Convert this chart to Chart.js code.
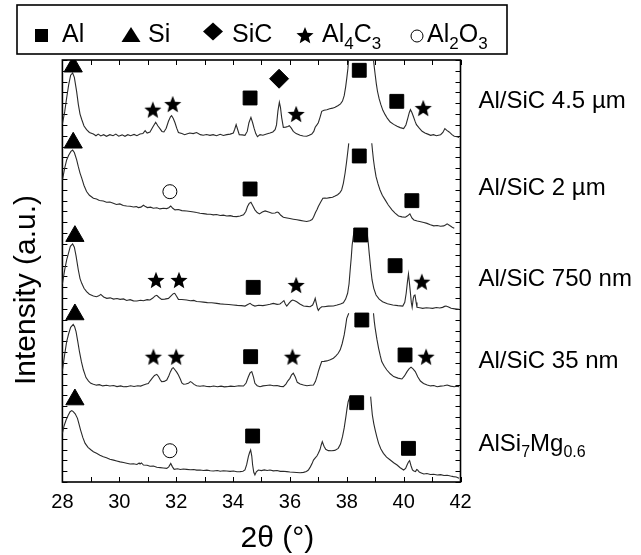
<!DOCTYPE html>
<html>
<head>
<meta charset="utf-8">
<script src="https://cdn.jsdelivr.net/npm/chart.js@4.4.1/dist/chart.umd.min.js"></script>
<style>
  html, body { margin: 0; padding: 0; background: #fff; }
  canvas { display: block; }
</style>
</head>
<body>
<canvas id="c" width="641" height="555"></canvas>
<script>
// ---------------- DATA ----------------
const sampleNames = ['Al/SiC 4.5 µm', 'Al/SiC 2 µm', 'Al/SiC 750 nm', 'Al/SiC 35 nm', 'AlSi7Mg0.6'];
const xTickLabels = [28, 30, 32, 34, 36, 38, 40, 42];
const xTitle = '2θ (°)';
const yTitle = 'Intensity (a.u.)';

// [2θ (°), stacked intensity (a.u.)]; null marks the truncated Al(111) peak top
const trace45um = [[28.0,331],[28.08,342],[28.15,355],[28.22,367],[28.29,376],[28.36,378],[28.42,374],[28.5,361],[28.56,349],[28.62,340],[28.68,335],[28.76,329],[28.85,325.6],[28.95,323],[29.09,321.6],[29.18,320],[29.26,321.5],[29.35,319.8],[29.45,321],[29.55,319.5],[29.67,321],[29.78,320],[29.88,321.5],[29.98,319.6],[30.1,320.8],[30.2,319.5],[30.3,321],[30.4,320],[30.52,321.2],[30.62,320],[30.73,321.6],[30.83,322],[30.91,324.7],[30.98,322.5],[31.08,323.5],[31.18,328],[31.28,332.4],[31.36,329],[31.43,326.6],[31.5,324],[31.57,323.5],[31.65,327],[31.73,333.4],[31.8,337.5],[31.84,338.5],[31.9,336],[31.96,332],[32.02,327],[32.08,323],[32.2,322],[32.3,321],[32.37,321.6],[32.48,322.5],[32.6,322],[32.72,323],[32.85,321],[32.95,320.5],[33.07,321.2],[33.19,320.4],[33.3,321],[33.42,320],[33.55,321.4],[33.66,320.3],[33.78,321],[33.9,321.5],[34.01,322.5],[34.06,326],[34.11,330.2],[34.16,326],[34.22,321],[34.32,320.8],[34.42,320.4],[34.5,324],[34.56,332],[34.63,337],[34.69,332],[34.74,327],[34.8,322],[34.86,319.1],[34.95,321],[35.05,320.5],[35.18,321.6],[35.3,322.5],[35.4,323.5],[35.48,325.6],[35.53,330],[35.58,343],[35.63,350.9],[35.67,346],[35.71,337],[35.77,327.8],[35.85,328],[35.93,328.5],[35.98,329.3],[36.05,327],[36.12,324.1],[36.22,322],[36.36,320.4],[36.47,319.8],[36.59,319.5],[36.68,320.5],[36.77,321.6],[36.84,324],[36.89,327.8],[36.95,330],[37.0,332],[37.06,337],[37.12,342.6],[37.2,343.5],[37.3,344.1],[37.4,345],[37.5,345.5],[37.59,346.3],[37.7,348],[37.78,349.5],[37.85,352],[37.91,357],[37.96,365],[38.0,373],[38.04,382],[38.07,392],[38.1,402],[38.45,null],[38.9,402],[38.94,390],[38.97,383],[39.0,376.4],[39.04,368],[39.08,361.1],[39.14,354],[39.2,348.7],[39.27,343.5],[39.35,339.5],[39.43,336],[39.53,332.7],[39.65,330.5],[39.77,328.7],[39.88,327.5],[40.0,326.6],[40.08,330],[40.15,336.5],[40.2,341.5],[40.24,344.1],[40.29,341.5],[40.34,338],[40.4,333.5],[40.45,330.2],[40.55,327],[40.65,324.1],[40.75,322.5],[40.85,321.5],[40.95,320.4],[41.05,321],[41.15,320],[41.3,321],[41.38,323],[41.45,326.6],[41.52,325],[41.6,323.5],[41.7,321],[41.78,319.5],[41.88,319],[41.95,318.5]];

const trace2um = [[28.0,279],[28.08,290],[28.15,297.6],[28.22,302],[28.3,305.5],[28.36,306.7],[28.42,304.5],[28.5,298],[28.56,291.4],[28.62,285.5],[28.68,280.8],[28.76,274],[28.85,268.5],[28.95,265],[29.09,262.2],[29.2,261.5],[29.3,260.2],[29.44,259.7],[29.55,258.5],[29.67,258.8],[29.79,257.6],[29.9,256.5],[30.02,257],[30.14,255.5],[30.26,255.1],[30.38,254.8],[30.5,254.2],[30.6,254.5],[30.67,253.6],[30.76,254],[30.85,255.8],[30.92,254.5],[30.99,253.6],[31.1,254],[31.2,253],[31.32,253.5],[31.43,252.4],[31.55,253],[31.67,252.7],[31.74,253.5],[31.81,255.1],[31.88,253],[31.96,251.5],[32.08,251.8],[32.2,250.8],[32.37,250.5],[32.5,250],[32.62,249.6],[32.72,249],[32.84,248.4],[32.96,248],[33.08,247.6],[33.2,247.4],[33.31,246.9],[33.42,247.2],[33.55,246.3],[33.66,246.6],[33.78,245.9],[33.9,246.2],[34.0,245.5],[34.13,245.3],[34.25,245.8],[34.37,246.9],[34.45,250],[34.51,254.6],[34.57,257.5],[34.63,258.5],[34.7,255],[34.77,251.5],[34.85,249],[34.93,247.8],[35.03,249.5],[35.13,250.5],[35.25,249.5],[35.37,248.4],[35.48,248.6],[35.55,249.5],[35.6,249],[35.68,246.5],[35.77,244.7],[35.9,244],[36.0,243.5],[36.12,242.9],[36.25,242.3],[36.36,241.8],[36.48,241.2],[36.59,240.7],[36.7,241.5],[36.78,242.5],[36.83,244.7],[36.9,249],[36.96,252],[37.0,254.6],[37.08,258.5],[37.16,262.2],[37.23,262.5],[37.3,262.2],[37.4,262.8],[37.5,263.2],[37.59,264.3],[37.68,265.5],[37.76,267.5],[37.82,269.9],[37.88,276],[37.94,285.3],[37.99,295],[38.03,303.8],[38.07,313],[38.45,null],[38.88,313],[38.91,305],[38.94,297.6],[38.98,290],[39.03,282.2],[39.1,275.5],[39.17,269.9],[39.25,265],[39.35,260.7],[39.46,256],[39.59,251.5],[39.7,248.5],[39.82,245.9],[39.94,245],[40.06,244.7],[40.14,246],[40.22,247.8],[40.29,244],[40.36,242.2],[40.48,241.2],[40.6,240.5],[40.71,239.8],[40.82,239],[40.94,237.8],[41.06,236.7],[41.18,237],[41.3,236.4],[41.41,236.7],[41.47,237.5],[41.53,238.6],[41.62,237],[41.71,235.5],[41.78,234.6]];

const trace750nm = [[28.0,183],[28.08,196],[28.15,205.2],[28.22,212],[28.28,217.8],[28.36,220],[28.42,217],[28.48,209],[28.56,195.9],[28.62,188],[28.68,183.6],[28.76,179],[28.85,175.9],[28.95,173.5],[29.09,171.9],[29.2,171.2],[29.28,172],[29.35,173.4],[29.45,171],[29.56,169.7],[29.68,170.2],[29.8,169],[29.92,169.6],[30.03,168.8],[30.15,169.2],[30.26,167.8],[30.38,168.5],[30.5,167.4],[30.62,167.3],[30.75,168],[30.85,167.5],[30.98,168.5],[31.08,168.2],[31.18,170],[31.26,172],[31.32,172.5],[31.4,170.5],[31.49,168.8],[31.6,169],[31.73,169.7],[31.82,172],[31.9,174],[31.95,174.4],[32.02,171.5],[32.08,168.8],[32.2,168.6],[32.37,168.2],[32.5,167.5],[32.62,167.8],[32.72,166.8],[32.84,166.6],[32.96,166.2],[33.1,165.8],[33.25,165.6],[33.43,165.1],[33.55,164.6],[33.7,164.3],[33.85,164],[34.01,163.6],[34.15,163.2],[34.3,163],[34.42,162.6],[34.52,164],[34.6,165.1],[34.68,163.5],[34.77,162.6],[34.9,163.4],[35.05,163],[35.18,163.6],[35.3,164.2],[35.42,165.1],[35.55,164.2],[35.65,164.5],[35.72,166],[35.79,167.6],[35.84,164.5],[35.89,162.6],[35.98,165.5],[36.05,167.5],[36.1,168.2],[36.17,167.5],[36.24,166.6],[36.35,164.5],[36.48,162.6],[36.6,162.3],[36.71,162],[36.8,163.5],[36.85,166.5],[36.89,169.7],[36.93,165],[36.97,160.5],[37.0,158.6],[37.05,160.5],[37.12,162],[37.2,162],[37.35,162.5],[37.53,162.6],[37.66,163.5],[37.78,164.5],[37.88,165.7],[37.96,169],[38.03,174.4],[38.08,183],[38.12,195.9],[38.16,208],[38.19,219],[38.23,227],[38.26,231.3],[38.45,234],[38.69,231.3],[38.73,227],[38.76,220],[38.79,211.3],[38.84,198],[38.89,186.7],[38.95,179],[39.03,172.8],[39.14,169],[39.26,166.6],[39.43,164.8],[39.62,163.6],[39.8,163],[39.97,162.6],[40.04,166],[40.09,174.4],[40.13,184],[40.17,192.2],[40.2,185],[40.24,174.4],[40.27,166],[40.3,161.4],[40.34,169.7],[40.37,172.5],[40.4,172.8],[40.44,166],[40.47,161.4],[40.57,161],[40.67,160.5],[40.8,161],[40.9,160.8],[41.02,160.5],[41.15,161.2],[41.27,160.8],[41.37,161.4],[41.44,162.3],[41.49,162.6],[41.58,161.8],[41.67,160.5],[41.8,160],[41.95,159.5]];

const trace35nm = [[28.0,103],[28.08,118],[28.15,129.7],[28.22,137],[28.29,143],[28.38,145.7],[28.43,143.5],[28.48,138.9],[28.54,130],[28.6,120.4],[28.67,111],[28.74,103.5],[28.83,96.5],[28.92,93.3],[29.0,91.2],[29.09,90.3],[29.2,89.5],[29.3,90],[29.42,88.8],[29.55,89.4],[29.67,88.7],[29.8,89.2],[29.92,88.2],[30.05,88.8],[30.15,88],[30.26,88.1],[30.4,88.9],[30.52,88.3],[30.65,89],[30.75,88.6],[30.85,89.6],[30.95,90.5],[31.02,91],[31.08,93.3],[31.16,96],[31.24,98.5],[31.32,99.5],[31.38,97.5],[31.44,94.5],[31.49,92.7],[31.58,93],[31.67,94.2],[31.74,98],[31.8,102],[31.86,105],[31.9,105.7],[31.95,104],[32.02,101.5],[32.08,98.9],[32.15,95],[32.2,91.5],[32.26,90.3],[32.34,90.5],[32.43,91.2],[32.5,92.8],[32.55,92.1],[32.63,90.2],[32.72,89],[32.84,88.5],[32.96,88.9],[33.08,88.2],[33.19,88.1],[33.32,88.7],[33.45,88],[33.58,88.6],[33.7,87.9],[33.78,88.1],[33.92,88.6],[34.05,88.2],[34.2,88.9],[34.37,88.7],[34.46,91.5],[34.54,97.3],[34.6,100.8],[34.66,102],[34.72,97],[34.77,91.2],[34.85,89],[34.95,88.1],[35.05,88.8],[35.17,89.2],[35.3,89.6],[35.42,88.9],[35.55,89.2],[35.66,88.4],[35.77,88.1],[35.86,90.5],[35.93,93.5],[36.0,95.8],[36.06,99],[36.12,100.5],[36.19,97],[36.26,92.1],[36.36,90.5],[36.48,89.6],[36.6,89],[36.72,89.4],[36.83,89.6],[36.9,93],[36.96,98],[37.0,102],[37.06,107],[37.12,111.3],[37.2,111.5],[37.3,111.9],[37.42,113],[37.53,114.4],[37.62,116.5],[37.7,119],[37.77,122.1],[37.84,128],[37.91,135.9],[37.96,144],[38.0,151.3],[38.07,155.9],[38.45,null],[38.94,155.9],[38.97,148],[39.0,142],[39.06,132],[39.12,123.5],[39.18,116.5],[39.23,111.3],[39.32,107],[39.41,103.5],[39.53,100],[39.65,97.4],[39.8,96],[39.94,95.2],[40.03,98],[40.12,102],[40.19,104.5],[40.26,106.1],[40.33,104.5],[40.41,102],[40.5,97],[40.59,93.3],[40.7,91],[40.83,89.6],[40.95,88.8],[41.06,89.2],[41.18,88.1],[41.3,88.6],[41.42,88.9],[41.53,89.6],[41.65,88.6],[41.78,88.1],[41.88,88.5],[41.95,88.1]];

const traceAlSi7Mg = [[28.0,45],[28.06,52],[28.13,57.3],[28.2,61.5],[28.27,65],[28.33,66],[28.38,65],[28.45,63],[28.53,58.8],[28.58,54],[28.64,48],[28.72,41],[28.8,35.7],[28.9,32],[29.0,29.8],[29.09,28],[29.2,26.5],[29.32,24.8],[29.44,23.4],[29.55,22.5],[29.67,21],[29.8,20.2],[29.91,19.4],[30.03,18.6],[30.15,18],[30.26,17.3],[30.38,16.6],[30.5,16.9],[30.62,16.2],[30.7,17.5],[30.73,16.6],[30.78,17.6],[30.85,15.7],[30.98,15.5],[31.08,14.6],[31.2,14.8],[31.32,13.6],[31.44,13.3],[31.55,13],[31.67,12.6],[31.74,14],[31.81,17.2],[31.87,14],[31.93,11.7],[32.05,12.2],[32.15,11.5],[32.25,12],[32.37,11.7],[32.5,11.3],[32.62,11.6],[32.72,11],[32.84,11.1],[32.96,10.6],[33.08,11],[33.2,10.4],[33.31,10.2],[33.45,10.6],[33.55,10],[33.66,10.4],[33.78,10.2],[33.9,9.8],[34.02,10.1],[34.14,9.5],[34.25,9.6],[34.35,10],[34.42,11.1],[34.48,16],[34.54,23.4],[34.58,27],[34.62,29.6],[34.66,24],[34.69,15.7],[34.73,9],[34.77,6.5],[34.82,9.5],[34.89,11.1],[35.0,10.5],[35.1,11.2],[35.2,10.6],[35.3,11.1],[35.42,10.3],[35.55,10.6],[35.66,9.8],[35.77,10],[35.89,9.6],[36.0,9.2],[36.12,9],[36.24,8.8],[36.36,8.6],[36.48,8.9],[36.58,9.8],[36.65,11.1],[36.72,14],[36.78,17],[36.83,20.3],[36.9,22.5],[36.95,24],[37.0,26.5],[37.06,30],[37.1,34],[37.14,37.3],[37.2,33],[37.26,30.2],[37.35,29],[37.47,28.9],[37.58,29.2],[37.7,31.1],[37.78,35],[37.85,41.9],[37.91,50],[37.97,60.4],[38.01,68],[38.05,74.2],[38.11,78.9],[38.45,null],[38.84,78.9],[38.87,70],[38.9,61.9],[38.95,54],[39.0,48],[39.06,41.5],[39.12,35.7],[39.2,30.5],[39.29,26.5],[39.4,23],[39.53,20.3],[39.65,17.8],[39.77,15.7],[39.88,13.2],[40.0,11.1],[40.07,12.5],[40.12,15.7],[40.17,18.5],[40.21,19.7],[40.26,15],[40.31,11.1],[40.36,10.2],[40.42,9.6],[40.46,11.5],[40.49,11.1],[40.55,9.2],[40.62,8.4],[40.71,7.4],[40.82,7.8],[40.94,7],[41.06,7.2],[41.18,6.5],[41.3,6.8],[41.42,6],[41.53,6.2],[41.65,5.5],[41.75,5],[41.85,4.6],[41.95,3.4]];

// phase markers: [2θ, stacked position]
const alPeaks    = [[34.6,354.9],[38.44,380.5],[39.76,351.8],[34.6,270.8],[38.44,301.3],[40.29,260],[34.71,179.9],[38.49,228.3],[39.7,199.9],[34.62,115.8],[38.53,149.7],[40.05,117.4],[34.69,42.5],[38.35,73.3],[40.17,31.1]];
const siPeaks    = [[28.38,383.8],[28.38,313.5],[28.44,227.2],[28.44,154.8],[28.44,76.2]];
const sicPeaks   = [[35.62,372.7]];
const al4c3Peaks = [[31.18,344.1],[31.88,349.3],[36.22,340.1],[40.69,345.6],[31.29,186.7],[32.1,186.7],[36.22,182.1],[40.64,185.1],[31.2,115.8],[32.0,115.8],[36.09,115.8],[40.79,115.8]];
const al2o3Peaks = [[31.78,268.3],[31.78,28.9]];
// baseline level (a.u.) of each sample's label at the right
const labelLevels = [346, 265.5, 181.5, 105.5, 29];

// ---------------- STYLE / HELPERS ----------------
const FONT = '"Liberation Sans", Arial, Helvetica, sans-serif';
const toXY = arr => arr.map(p => ({x: p[0], y: p[1]}));

function starPath(g, cx, cy, R, ratio) {
  g.beginPath();
  for (let i = 0; i < 10; i++) {
    const a = -Math.PI / 2 + i * Math.PI / 5;
    const r = (i % 2) ? R * ratio : R;
    const px = cx + r * Math.cos(a), py = cy + r * Math.sin(a);
    if (i === 0) g.moveTo(px, py); else g.lineTo(px, py);
  }
  g.closePath();
}
function makeStar(R) {
  const size = Math.ceil(2 * R + 4);
  const c = document.createElement('canvas');
  c.width = size; c.height = size;
  const g = c.getContext('2d');
  g.fillStyle = '#000';
  starPath(g, size / 2, size / 2 + 0.095 * R, R, 0.44);
  g.fill();
  return c;
}
const starImg = makeStar(9);

function drawRich(ctx, parts, x, y, size, subSize) {
  let cx = x;
  for (const p of parts) {
    const fs = p.sub ? subSize : size;
    ctx.font = fs + 'px ' + FONT;
    ctx.fillText(p.t, cx, y + (p.sub ? size * 0.26 : 0));
    cx += ctx.measureText(p.t).width;
  }
}

const lineDs = (label, arr) => ({
  label, data: toXY(arr), showLine: true, spanGaps: false,
  borderColor: '#2a2a2a', borderWidth: 1.1, pointRadius: 0, tension: 0, order: 2
});
const markDs = (label, arr, style, radius, bg) => ({
  label, data: toXY(arr), showLine: false, pointStyle: style, pointRadius: radius,
  pointBackgroundColor: bg || '#000', pointBorderColor: '#000', pointBorderWidth: 1, order: 0
});

const decorPlugin = {
  id: 'decor',
  beforeDatasetsDraw(chart) {
    const {ctx, chartArea: a, scales: {x, y}} = chart;
    ctx.save();
    ctx.strokeStyle = '#000';
    ctx.lineWidth = 1;
    const tl = 5;
    ctx.beginPath();
    x.ticks.forEach(t => {
      const px = Math.round(x.getPixelForValue(t.value)) + 0.5;
      ctx.moveTo(px, a.bottom); ctx.lineTo(px, a.bottom - tl);
      ctx.moveTo(px, a.top); ctx.lineTo(px, a.top + tl);
    });
    y.ticks.forEach(t => {
      const py = Math.round(y.getPixelForValue(t.value)) + 0.5;
      ctx.moveTo(a.left, py); ctx.lineTo(a.left + tl, py);
      ctx.moveTo(a.right, py); ctx.lineTo(a.right - tl, py);
    });
    ctx.stroke();
    ctx.lineWidth = 1.6;
    ctx.strokeRect(a.left, a.top, a.right - a.left, a.bottom - a.top);
    ctx.restore();
  },
  afterDraw(chart) {
    const {ctx, chartArea: a, scales: {y}} = chart;
    ctx.save();
    ctx.fillStyle = '#000';
    // axis titles
    ctx.font = '30px ' + FONT;
    ctx.textAlign = 'center';
    ctx.textBaseline = 'middle';
    ctx.fillText(xTitle, a.left + (a.right - a.left) * 0.54, 539);
    ctx.save();
    ctx.translate(27, a.top + (a.bottom - a.top) * 0.545);
    ctx.rotate(-Math.PI / 2);
    ctx.fillText(yTitle, 0, 0);
    ctx.restore();
    // legend box
    ctx.strokeStyle = '#000';
    ctx.lineWidth = 1.6;
    ctx.strokeRect(17, 5, 490, 49);
    // square
    ctx.fillRect(35, 29, 13, 13);
    // triangle
    ctx.beginPath(); ctx.moveTo(131, 27); ctx.lineTo(140.5, 42); ctx.lineTo(121.5, 42); ctx.closePath(); ctx.fill();
    // diamond
    ctx.beginPath(); ctx.moveTo(213, 22.5); ctx.lineTo(223, 31.5); ctx.lineTo(213, 40.5); ctx.lineTo(203, 31.5); ctx.closePath(); ctx.fill();
    // star
    starPath(ctx, 305, 36, 9, 0.44); ctx.fill();
    // circle
    ctx.beginPath(); ctx.arc(417, 36, 6, 0, Math.PI * 2); ctx.lineWidth = 1; ctx.stroke();
    ctx.textBaseline = 'alphabetic';
    ctx.textAlign = 'left';
    const LS = 25, LSub = 17;
    drawRich(ctx, [{t: 'Al'}], 62, 42, LS, LSub);
    drawRich(ctx, [{t: 'Si'}], 148, 42, LS, LSub);
    drawRich(ctx, [{t: 'SiC'}], 232, 42, LS, LSub);
    drawRich(ctx, [{t: 'Al'}, {t: '4', sub: true}, {t: 'C'}, {t: '3', sub: true}], 322, 42, LS, LSub);
    drawRich(ctx, [{t: 'Al'}, {t: '2', sub: true}, {t: 'O'}, {t: '3', sub: true}], 427, 42, LS, LSub);
    // sample labels at right
    const SS = 24, SSub = 16;
    const rx = a.right + 18;
    sampleNames.forEach((name, i) => {
      const by = y.getPixelForValue(labelLevels[i]);
      if (name === 'AlSi7Mg0.6') {
        drawRich(ctx, [{t: 'AlSi'}, {t: '7', sub: true}, {t: 'Mg'}, {t: '0.6', sub: true}], rx, by, SS, SSub);
      } else {
        drawRich(ctx, [{t: name}], rx, by, SS, SSub);
      }
    });
    ctx.restore();
  }
};

new Chart(document.getElementById('c'), {
  type: 'scatter',
  data: {
    datasets: [
      markDs('Al', alPeaks, 'rect', 9.8),
      markDs('Si', siPeaks, 'triangle', 10.5),
      markDs('SiC', sicPeaks, 'rectRot', 9.5),
      markDs('Al4C3', al4c3Peaks, starImg, 9),
      markDs('Al2O3', al2o3Peaks, 'circle', 7, '#fff'),
      lineDs(sampleNames[0], trace45um),
      lineDs(sampleNames[1], trace2um),
      lineDs(sampleNames[2], trace750nm),
      lineDs(sampleNames[3], trace35nm),
      lineDs(sampleNames[4], traceAlSi7Mg)
    ]
  },
  options: {
    responsive: false,
    animation: false,
    devicePixelRatio: 1,
    layout: { padding: { top: 60, right: 180.5, left: 0, bottom: 0 } },
    plugins: { legend: { display: false }, tooltip: { enabled: false } },
    scales: {
      x: {
        type: 'linear', position: 'bottom', min: 28, max: 42,
        grid: { display: false, drawTicks: false },
        border: { display: false },
        ticks: {
          stepSize: 1, autoSkip: false, maxRotation: 0, padding: 8, color: '#000',
          font: { family: FONT, size: 20 },
          callback: v => xTickLabels.includes(v) ? String(v) : ''
        },
        afterFit: s => { s.height = 73; }
      },
      y: {
        type: 'linear', position: 'left', min: 0, max: 390,
        grid: { display: false, drawTicks: false },
        border: { display: false },
        ticks: { display: false, stepSize: 10 },
        afterFit: s => { s.width = 62.4; }
      }
    }
  },
  plugins: [decorPlugin]
});
</script>
</body>
</html>
